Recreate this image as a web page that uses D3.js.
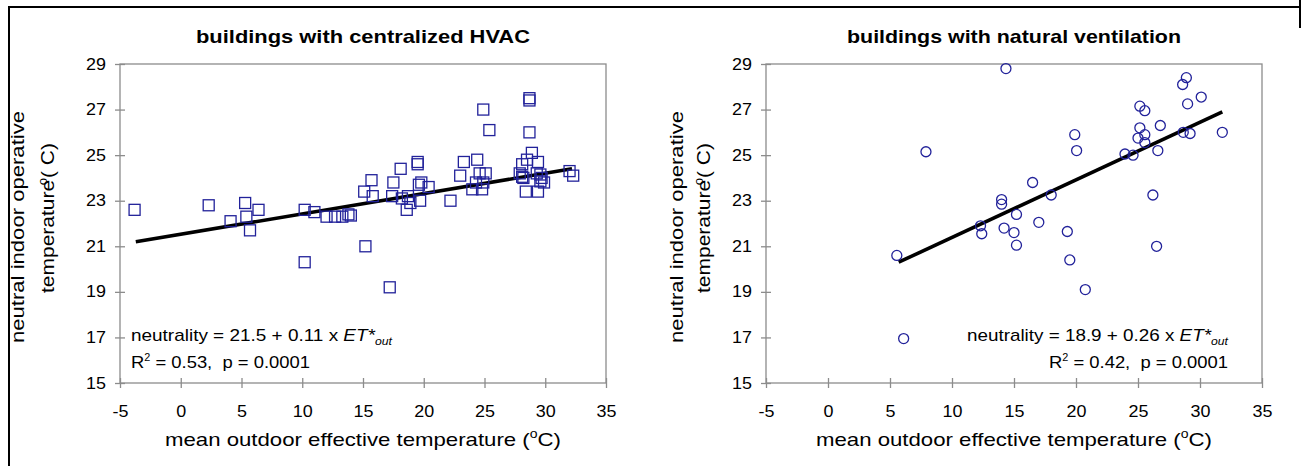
<!DOCTYPE html>
<meta charset="utf-8">
<style>
body { margin: 0; background: #fff; }
text { font-family: "Liberation Sans", Arial, sans-serif; fill: #000; }
.axis path, .axis line { stroke: #8c8c8c; stroke-width: 1.3px; }
.axis text { font-size: 16px; fill: #000; }
</style>
<svg width="1306" height="466"></svg>
<script src="https://d3js.org/d3.v7.min.js"></script>
<script>

// ---- data ----
var xTicks = [-5, 0, 5, 10, 15, 20, 25, 30, 35];
var yTicks = [15, 17, 19, 21, 23, 25, 27, 29];

// buildings with centralized HVAC
var hvacX = [-3.8, 2.3, 4.1, 5.3, 5.4, 5.7, 6.4, 10.2, 10.2, 11.0, 12.0, 12.7, 13.3, 13.8, 14.0,
             15.2, 17.2, 15.1, 15.8, 15.7, 17.4, 17.5, 18.1, 18.2, 18.7, 18.6, 18.9, 19.7, 19.6,
             19.8, 19.5, 19.5, 20.4, 22.2, 23.0, 23.3, 24.0, 24.3, 24.4, 24.6, 24.8, 24.9, 25.1,
             24.9, 25.4, 27.9, 28.1, 28.2, 28.1, 28.5, 28.9, 28.4, 28.7, 28.7, 28.7, 29.4, 29.3,
             29.6, 29.7, 29.6, 29.4, 29.9, 32.0, 32.3];
var hvacY = [22.6, 22.8, 22.1, 22.9, 22.3, 21.7, 22.6, 22.6, 20.3, 22.5, 22.3, 22.3, 22.3, 22.4, 22.35,
             21.0, 19.2, 23.4, 23.2, 23.9, 23.2, 23.8, 24.4, 23.1, 23.2, 22.6, 22.9, 23.0, 23.7,
             23.8, 24.6, 24.7, 23.6, 23.0, 24.1, 24.7, 23.5, 23.8, 24.8, 24.2, 23.5, 23.8, 24.2,
             27.0, 26.1, 24.2, 24.05, 24.0, 24.6, 24.8, 25.1, 23.4, 27.5, 27.4, 26.0, 24.7, 24.2,
             24.15, 24.0, 23.85, 23.4, 23.8, 24.3, 24.1];
var hvacFitX = [-3.7, 32.2];
var hvacFitY = [21.2, 24.4];

// buildings with natural ventilation
var nvX = [14.35, 7.9, 16.5, 14.0, 14.0, 15.2, 17.0, 12.3, 12.4, 14.2, 15.0, 15.2, 5.55, 6.1,
           19.3, 19.5, 20.75, 26.5, 18.0, 19.9, 20.05, 23.95, 24.6, 25.15, 25.55, 25.15, 25.55,
           25.0, 25.55, 26.8, 26.6, 26.2, 28.6, 28.9, 29.0, 30.1, 28.65, 29.2, 31.8];
var nvY = [28.8, 25.15, 23.8, 23.05, 22.85, 22.4, 22.05, 21.9, 21.55, 21.8, 21.6, 21.05, 20.6, 16.95,
           21.65, 20.4, 19.1, 21.0, 23.25, 25.9, 25.2, 25.05, 25.0, 27.15, 26.95, 26.2, 25.9,
           25.75, 25.55, 26.3, 25.2, 23.25, 28.1, 28.4, 27.25, 27.55, 26.0, 25.95, 26.0];
var nvFitX = [5.7, 31.8];
var nvFitY = [20.3, 26.9];

var svg = d3.select("svg");
var markColour = "#22229a";

// outer frame of the figure
svg.append("path")
   .attr("d", "M9,466 L9,7 L1300,7 M1300,0 L1300,28")
   .attr("fill", "none")
   .attr("stroke", "#000")
   .attr("stroke-width", 2);

// widen text horizontally, the original figure is stretched
function stretch(sel, k) {
        sel.each(function() {
                var w = this.getComputedTextLength();
                d3.select(this).attr("textLength", w * k).attr("lengthAdjust", "spacingAndGlyphs");
        });
}

function panel(opt) {
        var x = d3.scaleLinear().domain([-5, 35]).range([opt.left, opt.right]);
        var y = d3.scaleLinear().domain([15, 29]).range([383, 64]);
        var g = svg.append("g");

        // plot frame
        g.append("rect")
         .attr("x", opt.left).attr("y", 64)
         .attr("width", opt.right - opt.left).attr("height", 383 - 64)
         .attr("fill", "none").attr("stroke", "#8c8c8c").attr("stroke-width", 1.3);

        var ax = g.append("g").attr("class", "axis")
                  .attr("transform", "translate(0,383)")
                  .call(d3.axisBottom(x).tickValues(xTicks).tickFormat(function(d) { return String(d); })
                          .tickSize(5).tickPadding(18).tickSizeOuter(0));
        ax.selectAll(".tick line").attr("y1", -5).attr("y2", 5);
        stretch(ax.selectAll("text"), 1.12);

        var ay = g.append("g").attr("class", "axis")
                  .attr("transform", "translate(" + opt.left + ",0)")
                  .call(d3.axisLeft(y).tickValues(yTicks).tickFormat(function(d) { return String(d); })
                          .tickSize(5).tickPadding(9).tickSizeOuter(0));
        ay.selectAll(".tick line").attr("x1", 5).attr("x2", -5);
        stretch(ay.selectAll("text"), 1.12);
        ax.select(".domain").remove();
        ay.select(".domain").remove();

        // title
        g.append("text")
         .attr("x", (opt.left + opt.right) / 2).attr("y", 43)
         .attr("text-anchor", "middle")
         .style("font-size", "18.5px").style("font-weight", "bold")
         .attr("textLength", 334).attr("lengthAdjust", "spacingAndGlyphs")
         .text(opt.title);

        // x axis title
        var xt = g.append("text")
                  .attr("x", (opt.left + opt.right) / 2).attr("y", 446)
                  .attr("text-anchor", "middle")
                  .style("font-size", "19px")
                  .attr("textLength", 396).attr("lengthAdjust", "spacingAndGlyphs");
        xt.append("tspan").text("mean outdoor effective temperature (");
        xt.append("tspan").attr("dy", -8).style("font-size", "12px").text("o");
        xt.append("tspan").attr("dy", 8).text("C)");

        // y axis title, two lines
        g.append("text")
         .attr("transform", "translate(" + opt.yt1 + ",227) rotate(-90)")
         .attr("text-anchor", "middle").attr("dy", "0.35em")
         .style("font-size", "19px")
         .attr("textLength", 232).attr("lengthAdjust", "spacingAndGlyphs")
         .text("neutral indoor operative");
        var yt = g.append("text")
                  .attr("transform", "translate(" + opt.yt2 + ",218) rotate(-90)")
                  .attr("text-anchor", "middle")
                  .style("font-size", "19px")
                  .attr("textLength", 150).attr("lengthAdjust", "spacingAndGlyphs");
        yt.append("tspan").attr("dy", "0.35em").text("temperature");
        yt.append("tspan").attr("dx", -5).attr("dy", -7).style("font-size", "12px").text("o");
        yt.append("tspan").attr("dy", 7).style("white-space", "pre").text("( C)");

        // fit line
        g.append("line")
         .attr("x1", x(opt.fitX[0])).attr("y1", y(opt.fitY[0]))
         .attr("x2", x(opt.fitX[1])).attr("y2", y(opt.fitY[1]))
         .attr("stroke", "#000").attr("stroke-width", 3.6);

        // points
        var pts = d3.range(opt.xs.length);
        if (opt.shape === "square") {
                g.selectAll("rect.pt").data(pts).enter().append("rect")
                 .attr("class", "pt")
                 .attr("x", function(i) { return x(opt.xs[i]) - 5.5; })
                 .attr("y", function(i) { return y(opt.ys[i]) - 5.5; })
                 .attr("width", 11).attr("height", 11)
                 .attr("fill", "none").attr("stroke", markColour).attr("stroke-width", 1.3);
        } else {
                g.selectAll("circle.pt").data(pts).enter().append("circle")
                 .attr("class", "pt")
                 .attr("cx", function(i) { return x(opt.xs[i]); })
                 .attr("cy", function(i) { return y(opt.ys[i]); })
                 .attr("r", 5)
                 .attr("fill", "none").attr("stroke", markColour).attr("stroke-width", 1.3);
        }

        // equation text
        var l1 = g.append("text")
                  .attr("x", opt.eqX1).attr("y", 341)
                  .style("font-size", "17px").style("white-space", "pre")
                  .attr("textLength", 261).attr("lengthAdjust", "spacingAndGlyphs");
        l1.append("tspan").text(opt.eq);
        l1.append("tspan").style("font-style", "italic").text("ET*");
        l1.append("tspan").attr("dy", 4).style("font-style", "italic").style("font-size", "11px").text("out");

        var l2 = g.append("text")
                  .attr("x", opt.eqX2).attr("y", 368)
                  .style("font-size", "17px").style("white-space", "pre")
                  .attr("textLength", 179).attr("lengthAdjust", "spacingAndGlyphs");
        l2.append("tspan").text("R");
        l2.append("tspan").attr("dy", -7).style("font-size", "10px").text("2");
        l2.append("tspan").attr("dy", 7).text(opt.r2);
}

panel({
        left: 120, right: 606, yt1: 17, yt2: 47,
        title: "buildings with centralized HVAC",
        xs: hvacX, ys: hvacY, shape: "square",
        fitX: hvacFitX, fitY: hvacFitY,
        eq: "neutrality = 21.5 + 0.11 x ", r2: " = 0.53,  p = 0.0001",
        eqX1: 131, eqX2: 131
});

panel({
        left: 766, right: 1262, yt1: 676, yt2: 703,
        title: "buildings with natural ventilation",
        xs: nvX, ys: nvY, shape: "circle",
        fitX: nvFitX, fitY: nvFitY,
        eq: "neutrality = 18.9 + 0.26 x ", r2: " = 0.42,  p = 0.0001",
        eqX1: 967, eqX2: 1049
});

</script>
